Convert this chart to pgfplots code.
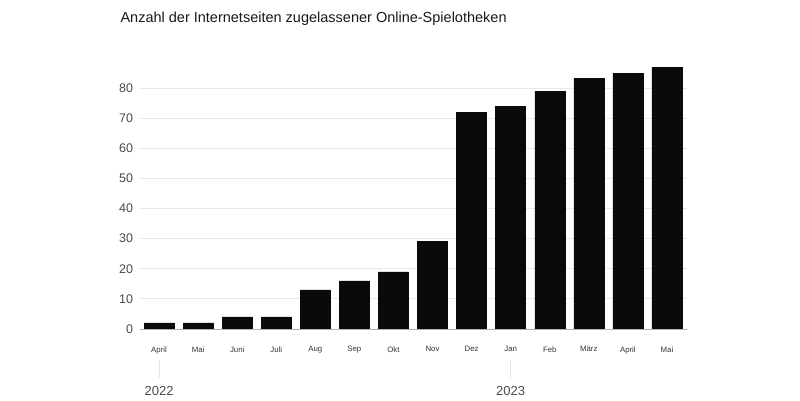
\documentclass[border=0pt]{standalone}
\usepackage{pgfplots}
\pgfplotsset{compat=1.18}
\usepackage{fontspec}
\setmainfont{Liberation Sans}
\definecolor{barc}{HTML}{0A0A0A}
\definecolor{gridc}{HTML}{E8E8E8}
\definecolor{ticklab}{HTML}{4A4A4A}
\definecolor{monlab}{HTML}{333333}
\begin{document}
\begin{tikzpicture}[x=1pt,y=1pt]
\useasboundingbox (0,0) rectangle (800,400);
\node[anchor=west, font=\fontsize{14.5}{16}\selectfont, text=black!90] at (117,381.5) {Anzahl der Internetseiten zugelassener Online-Spielotheken};
\begin{axis}[
  at={(139.5pt,71pt)}, anchor=south west,
  scale only axis, width=547pt, height=271pt,
  xmin=-0.5, xmax=13.5, ymin=0, ymax=90,
  axis line style={draw=none},
  axis x line*=bottom, axis y line*=left,
  xtick=data,
  xticklabels={April,Mai,Juni,Juli,Aug,Sep,Okt,Nov,Dez,Jan,Feb,März,April,Mai},
  xticklabel style={font=\fontsize{7.8}{8}\selectfont, text=monlab, yshift=-14pt},
  ytick={0,10,...,80},
  yticklabel style={font=\fontsize{12.5}{13}\selectfont, text=ticklab, xshift=-3pt},
  /pgf/number format/assume math mode=true,
  major tick length=0pt,
  ymajorgrids, grid style={gridc, line width=0.8pt},
  clip=false,
]
\addplot[ybar, bar width=30pt, fill=barc, draw=barc] coordinates {
(0,2) (1,2) (2,4) (3,4) (4,13) (5,16) (6,19) (7,29) (8,72) (9,74) (10,79) (11,83.3) (12,85) (13,87)
};
\draw[gray!60, line width=0.8pt] (axis cs:-0.5,0) -- (axis cs:13.5,0);
\draw[gridc, line width=1pt] (axis cs:0,-10.3) -- (axis cs:0,-16.3);
\draw[gridc, line width=1pt] (axis cs:9,-10.3) -- (axis cs:9,-16.3);
\node[font=\fontsize{13}{14}\selectfont, text=ticklab] at (axis cs:0,-20.5) {2022};
\node[font=\fontsize{13}{14}\selectfont, text=ticklab] at (axis cs:9,-20.5) {2023};
\end{axis}
\end{tikzpicture}
\end{document}
